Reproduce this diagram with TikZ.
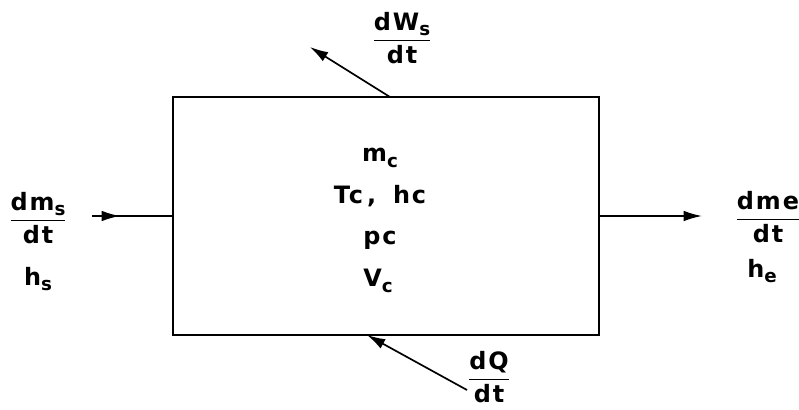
\documentclass[tikz,border=0pt]{standalone}
\usepackage{amsmath}
\usepackage{fontspec}
\setmainfont{DejaVu Sans}[LetterSpace=8]
\usepackage{tikz}
\usetikzlibrary{positioning,arrows.meta}

\newcommand{\lo}[1]{\raisebox{-0.4ex}{\fontsize{13}{15}\selectfont #1}}

\begin{document}
\begin{tikzpicture}[x=0.025cm,y=-0.025cm,
  flow/.style={-{Latex[length=13pt,width=7.5pt]},line width=1.2pt},
  lbl/.style={font=\fontsize{17}{20}\selectfont\bfseries,inner sep=1pt}]
\useasboundingbox (0,0) rectangle (799,409);

\node[draw,line width=1.4pt,minimum width=10.65cm,minimum height=5.95cm] (cv) at (386,216) {};

% contents of the volume
\node[lbl] (mc) at (380,158) {m\lo{c}};
\node[lbl] (tc) at (380,196) {Tc\,,\; hc};
\node[lbl] (pc) at (380,240) {pc};
\node[lbl] (vc) at (378,281) {V\lo{c}};

% inlet
\coordinate (sin) at (92,216);
\coordinate (smid) at (120,216);
\draw[line width=1.2pt] (sin) -- (cv.west);
\draw[flow] (sin) -- (smid);
\node[lbl] (dms) at (38,218) {$\dfrac{\text{dm\lo{s}}}{\text{dt}}$};
\node[lbl] (hs) at (38,279) {h\lo{s}};

% outlet
\coordinate (eout) at (702,216);
\draw[flow] (cv.east) -- (eout);
\node[lbl] (dme) at (768,217) {$\dfrac{\text{dme}}{\text{dt}}$};
\node[lbl] (he) at (762,271) {h\lo{e}};

% work
\coordinate (wst) at (390,97);
\coordinate (wend) at (310,47);
\draw[flow] (wst) -- (wend);
\node[lbl] (dws) at (402,38) {$\dfrac{\text{dW\lo{s}}}{\text{dt}}$};

% heat
\coordinate (qst) at (467,390);
\coordinate (qend) at (367,335);
\draw[flow] (qst) -- (qend);
\node[lbl] (dq) at (489,377) {$\dfrac{\text{dQ}}{\text{dt}}$};

\end{tikzpicture}
\end{document}
